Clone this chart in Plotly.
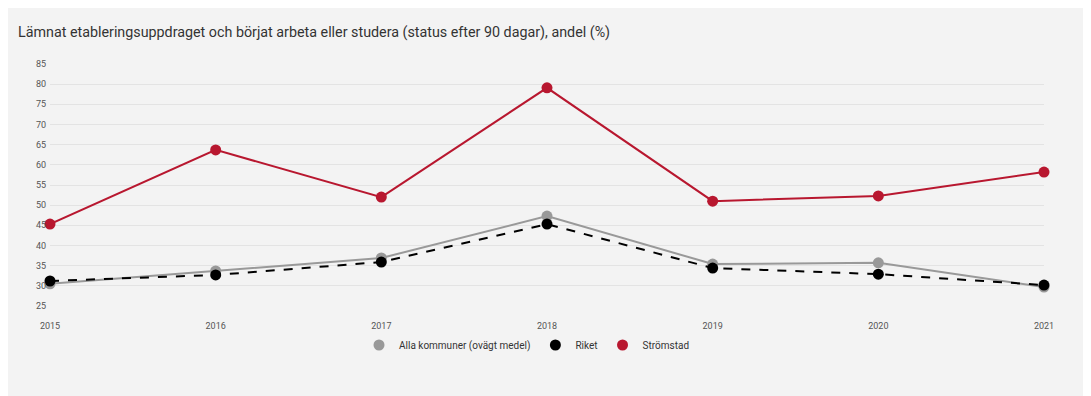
import plotly.graph_objects as go

years = [2015, 2016, 2017, 2018, 2019, 2020, 2021]
alla_kommuner = [30.5, 33.7, 36.9, 47.3, 35.4, 35.7, 29.7]
riket = [31.2, 32.7, 35.9, 45.3, 34.4, 32.9, 30.2]
stromstad = [45.3, 63.7, 52.0, 79.1, 51.0, 52.3, 58.2]

y_ticks = [25, 30, 35, 40, 45, 50, 55, 60, 65, 70, 75, 80, 85]

title = "Lämnat etableringsuppdraget och börjat arbeta eller studera (status efter 90 dagar), andel (%)"

series = [
    ("Alla kommuner (ovägt medel)", alla_kommuner, "#999999", "solid"),
    ("Riket", riket, "#000000", "dash"),
    ("Strömstad", stromstad, "#b8172f", "solid"),
]

# page is offset by 8px body margin
W, H = 1083, 388
ML, MR, MT, MB = 42, 47, 56, 90
pw, ph = W - ML - MR, H - MT - MB

def px_y(p):
    return (H - MB - p) / ph

fig = go.Figure()
for name, vals, color, dash in series:
    fig.add_trace(go.Scatter(
        x=years, y=vals, mode="lines+markers", name=name,
        line=dict(color=color, width=2, dash=dash),
        marker=dict(color=color, size=11),
        cliponaxis=False, showlegend=False,
    ))
for name, vals, color, dash in series:
    fig.add_trace(go.Scatter(
        x=[None], y=[None], mode="markers", name=name,
        marker=dict(color=color, size=11), showlegend=True,
    ))

fig.update_layout(
    width=W, height=H,
    margin=dict(l=ML, r=MR, t=MT, b=MB),
    paper_bgcolor="#f3f3f3",
    plot_bgcolor="#f3f3f3",
    font=dict(family="Roboto", color="#555555"),
    title=dict(text=title, xref="container", x=10 / W,
               xanchor="left", yref="container", y=1 - 24 / H, yanchor="middle",
               font=dict(size=14.3, color="#333333", family="Roboto")),
    xaxis=dict(
        range=[2015, 2021], tickvals=years, ticktext=[str(y) for y in years],
        showgrid=False, zeroline=False, showline=False,
        ticks="outside", ticklen=11, tickcolor="rgba(0,0,0,0)",
        tickfont=dict(size=9, color="#555555"),
    ),
    yaxis=dict(
        range=[25, 85], tickvals=y_ticks,
        showgrid=True, gridcolor="#e3e3e3", gridwidth=1,
        zeroline=False, showline=False,
        ticks="outside", ticklen=1, tickcolor="rgba(0,0,0,0)",
        tickfont=dict(size=9, color="#555555"),
    ),
    legend=dict(orientation="h", x=0.5 - 20 / pw, xanchor="center",
                y=px_y(337), yanchor="middle",
                font=dict(size=10, color="#333333"),
                bgcolor="rgba(0,0,0,0)", itemwidth=30),
)

fig.write_html("out.html")
